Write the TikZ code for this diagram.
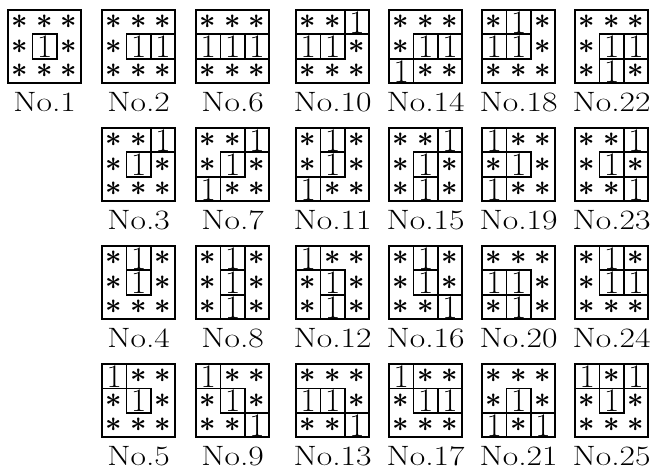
\documentclass[tikz,border=0pt]{standalone}
\usepackage{amsmath,amssymb}
\usepackage{tikz}
\usetikzlibrary{calc}

% one 3x3 pattern: left, top, number, cells (0 = *, 1 = 1)
\newcommand{\tile}[4]{%
	\begin{scope}[shift={(#1,#2)}]
		\foreach \c [count=\k from 0] in {#4} {
			\pgfmathtruncatemacro{\cx}{mod(\k,3)}
			\pgfmathtruncatemacro{\cy}{div(\k,3)}
			\ifnum\c=1
				\draw[onebox] (\cx*24.4,\cy*24.4) rectangle ++(24.4,24.4);
				\node[digit] (c#3-\k) at (\cx*24.4+12.2,\cy*24.4+12.6) {1};
			\else
				\node[star] (c#3-\k) at (\cx*24.4+12.2,\cy*24.4+12.2) {\scalebox{1.15}{\boldmath$*$}};
			\fi
		}
		\draw[frame] (0,0) rectangle (73.2,73.2);
		\node[lab] (no#3) at (36.6,101.5) {\scalebox{1.2}[1]{No.#3}};
	\end{scope}}

\begin{document}
\begin{tikzpicture}[x=1pt,y=-1pt,
		onebox/.style={line width=1.8pt},
		frame/.style={line width=2.4pt},
		digit/.style={inner sep=0pt,font=\fontsize{33}{33}\selectfont},
		star/.style={inner sep=0pt,font=\fontsize{24.88}{25}\selectfont},
		lab/.style={inner sep=0pt,anchor=base,font=\fontsize{28}{28}\selectfont}]
	\useasboundingbox (0,0) rectangle (656,470);
	% first row
	\tile{8}{10}{1}{0,0,0,0,1,0,0,0,0}
	\tile{102}{10}{2}{0,0,0,0,1,1,0,0,0}
	\tile{196}{10}{6}{0,0,0,1,1,1,0,0,0}
	\tile{296}{10}{10}{0,0,1,1,1,0,0,0,0}
	\tile{389}{10}{14}{0,0,0,0,1,1,1,0,0}
	\tile{482}{10}{18}{0,1,0,1,1,0,0,0,0}
	\tile{575}{10}{22}{0,0,0,0,1,1,0,1,0}
	% second row
	\tile{102}{128}{3}{0,0,1,0,1,0,0,0,0}
	\tile{196}{128}{7}{0,0,1,0,1,0,1,0,0}
	\tile{296}{128}{11}{0,1,0,0,1,0,1,0,0}
	\tile{389}{128}{15}{0,0,1,0,1,0,0,1,0}
	\tile{482}{128}{19}{1,0,0,0,1,0,1,0,0}
	\tile{575}{128}{23}{0,0,1,0,1,0,0,0,1}
	% third row
	\tile{102}{246}{4}{0,1,0,0,1,0,0,0,0}
	\tile{196}{246}{8}{0,1,0,0,1,0,0,1,0}
	\tile{296}{246}{12}{1,0,0,0,1,0,0,1,0}
	\tile{389}{246}{16}{0,1,0,0,1,0,0,0,1}
	\tile{482}{246}{20}{0,0,0,1,1,0,0,1,0}
	\tile{575}{246}{24}{0,1,0,0,1,1,0,0,0}
	% fourth row
	\tile{102}{364}{5}{1,0,0,0,1,0,0,0,0}
	\tile{196}{364}{9}{1,0,0,0,1,0,0,0,1}
	\tile{296}{364}{13}{0,0,0,1,1,0,0,0,1}
	\tile{389}{364}{17}{1,0,0,0,1,1,0,0,0}
	\tile{482}{364}{21}{0,0,0,0,1,0,1,0,1}
	\tile{575}{364}{25}{1,0,1,0,1,0,0,0,0}
\end{tikzpicture}
\end{document}
